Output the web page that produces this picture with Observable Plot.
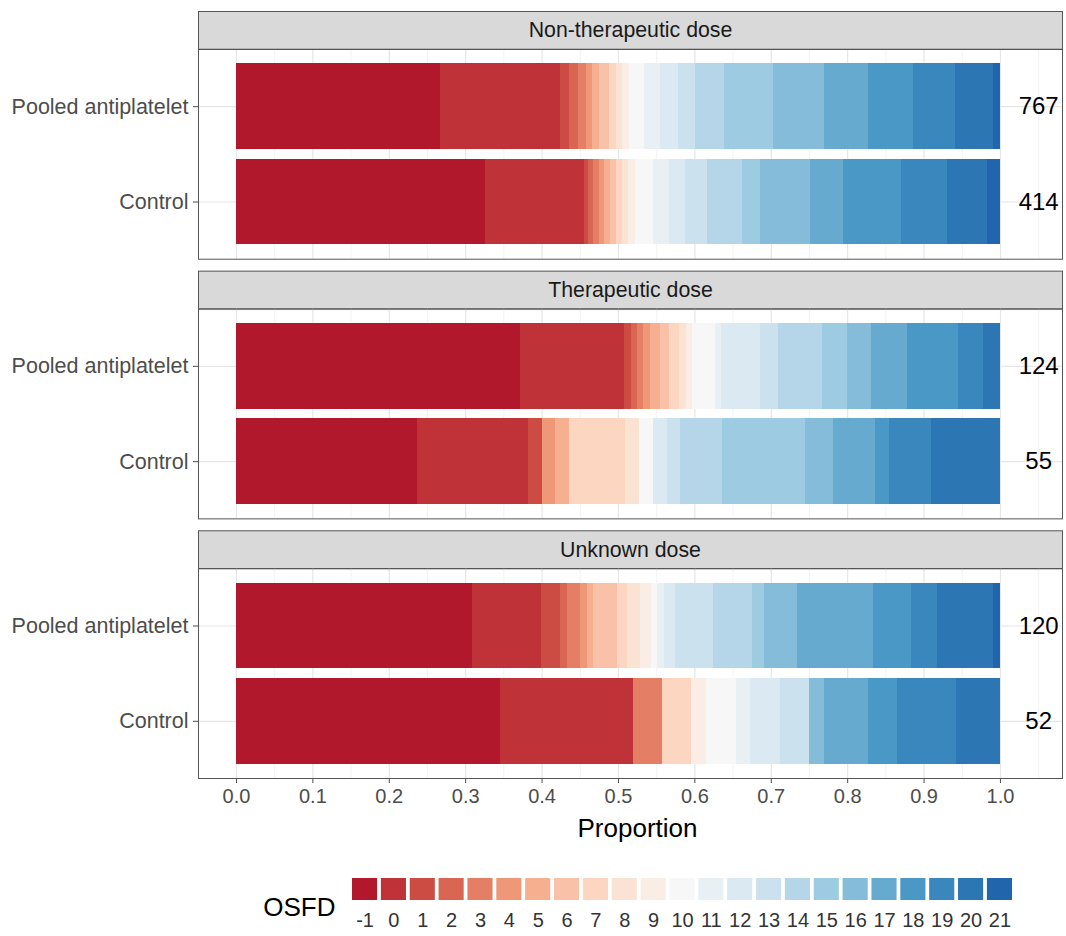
<!DOCTYPE html>
<html>
<head>
<meta charset="utf-8">
<script src="https://cdn.jsdelivr.net/npm/d3@7"></script>
<script src="https://cdn.jsdelivr.net/npm/@observablehq/plot@0.6"></script>
<style>
  html, body { margin: 0; padding: 0; background: #ffffff; }
  svg { display: block; }
</style>
</head>
<body>
<div id="chart"></div>
<script>
// ---------- data ----------
const cats = ["-1","0","1","2","3","4","5","6","7","8","9","10","11","12","13","14","15","16","17","18","19","20","21"];
const doses = ["Non-therapeutic dose", "Therapeutic dose", "Unknown dose"];
const groups = ["Pooled antiplatelet", "Control"];

// shares of each OSFD category (-1 .. 21)
const nonTherPooled  = [0.267,0.157,0.012,0.012,0.010,0.009,0.009,0.013,0.009,0.008,0.009,0.020,0.020,0.024,0.022,0.039,0.063,0.067,0.058,0.059,0.055,0.050,0.009];
const nonTherControl = [0.327,0.130,0.005,0.007,0.007,0.007,0.008,0.008,0.008,0.008,0.009,0.024,0.020,0.022,0.028,0.046,0.024,0.066,0.043,0.076,0.060,0.053,0.017];
const therPooled     = [0.372,0.137,0.008,0.008,0.008,0.009,0.013,0.013,0.013,0.008,0.008,0.031,0.008,0.050,0.024,0.058,0.033,0.031,0.047,0.067,0.033,0.022,0.000];
const therControl    = [13,8,1,0,0,1,1,0,4,1,0,1,0,1,1,3,6,2,3,1,3,5,0];            // counts of 55
const unkPooled      = [0.309,0.090,0.025,0.009,0.017,0.009,0.008,0.031,0.013,0.017,0.015,0.007,0.010,0.014,0.050,0.051,0.016,0.043,0.099,0.050,0.034,0.073,0.009];
const unkControl     = [18,9,0,0,2,0,0,0,2,0,1,2,1,2,2,0,0,1,3,2,4,3,0];             // counts of 52

const nNonTher = [767, 414];
const nTher = [124, 55];
const nUnk = [120, 52];

const xTicks = [0, 0.1, 0.2, 0.3, 0.4, 0.5, 0.6, 0.7, 0.8, 0.9, 1.0];
const xMinor = [0.05, 0.15, 0.25, 0.35, 0.45, 0.55, 0.65, 0.75, 0.85, 0.95, 1.05];

// ---------- tables built from the arrays ----------
const series = [
  [doses[0], groups[0], nonTherPooled], [doses[0], groups[1], nonTherControl],
  [doses[1], groups[0], therPooled],    [doses[1], groups[1], therControl],
  [doses[2], groups[0], unkPooled],     [doses[2], groups[1], unkControl]
];
const data = series.flatMap(([dose, group, vals]) =>
  vals.map((v, i) => ({dose, group, osfd: cats[i], value: v})));

const nRows = [
  [doses[0], nNonTher], [doses[1], nTher], [doses[2], nUnk]
].flatMap(([dose, ns]) => ns.map((n, i) => ({dose, group: groups[i], n: String(n)})));

const palette = d3.quantize(d3.piecewise(d3.interpolateRgb, d3.schemeRdBu[9]), cats.length);
const colorScale = {type: "ordinal", domain: cats, range: palette};

const font = "'Liberation Sans', Arial, Helvetica, sans-serif";
const panelH = 210, gapH = 50;

const main = Plot.plot({
  width: 1066,
  height: 850,
  marginTop: 49,
  marginBottom: 72,
  marginLeft: 198,
  marginRight: 4,
  style: {fontFamily: font, fontSize: "20px", color: "#4D4D4D", background: "#ffffff"},
  x: {domain: [-0.0497, 1.0812], ticks: xTicks, tickFormat: d3.format(".1f"), tickSize: 5, tickPadding: 5, label: null},
  y: {domain: groups, paddingInner: 0.1, paddingOuter: 0.15, round: false, label: null},
  fy: {domain: doses, paddingInner: gapH / (panelH + gapH), paddingOuter: 0, axis: null, round: false},
  color: colorScale,
  marks: [
    // strip backgrounds and labels
    Plot.frame({fill: "#D9D9D9", stroke: "#555555", strokeWidth: 1, insetTop: -38, insetBottom: panelH}),
    Plot.text(doses, {fy: d => d, text: d => d, frameAnchor: "top", lineAnchor: "middle", dy: -19, fontSize: 21.3, fill: "#1A1A1A"}),
    // grid
    Plot.ruleX(xMinor, {stroke: "#F0F0F0", strokeWidth: 0.8}),
    Plot.ruleX(xTicks, {stroke: "#E6E6E6", strokeWidth: 1.2}),
    Plot.ruleY(groups, {y: d => d, stroke: "#E6E6E6", strokeWidth: 1.2}),
    // stacked proportions
    Plot.barX(data, Plot.stackX({x: "value", y: "group", fy: "dose", fill: "osfd", offset: "normalize", shapeRendering: "crispEdges"})),
    // sample sizes
    Plot.text(nRows, {x: 1.05, y: "group", fy: "dose", text: "n", fontSize: 24, fill: "#000000"}),
    // y axis
    Plot.axisY({tickSize: 5, tickPadding: 5, fontSize: 21.5, label: null}),
    // axis title
    Plot.text(["Proportion"], {fy: () => doses[2], frameAnchor: "bottom", lineAnchor: "middle", dy: 50, dx: 7, fontSize: 26, fill: "#000000"}),
    // panel border
    Plot.frame({stroke: "#555555", strokeWidth: 1})
  ]
});

const legend = Plot.plot({
  width: 1066,
  height: 86,
  marginTop: 28,
  marginBottom: 36,
  marginLeft: 352,
  marginRight: 54,
  style: {fontFamily: font, fontSize: "20px", color: "#333333", background: "#ffffff"},
  x: {type: "band", domain: cats, paddingInner: 0.13, paddingOuter: 0, round: false, tickSize: 0, tickPadding: 12, label: null},
  color: colorScale,
  marks: [
    Plot.cell(cats, {x: d => d, fill: d => d}),
    Plot.text(["OSFD"], {frameAnchor: "left", lineAnchor: "middle", dx: -17, dy: 18, textAnchor: "end", fontSize: 26, fill: "#000000"})
  ]
});

const root = document.getElementById("chart");
root.append(main, legend);
</script>
</body>
</html>
